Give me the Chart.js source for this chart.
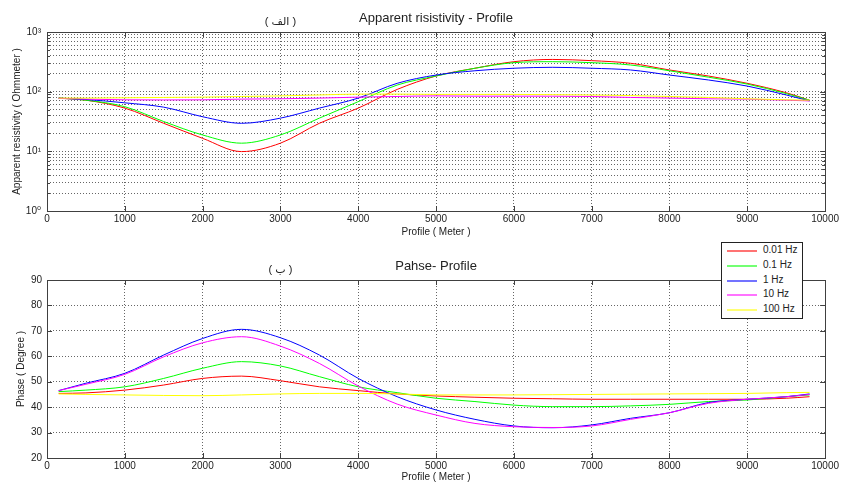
<!DOCTYPE html>
<html>
<head>
<meta charset="utf-8">
<title>Apparent resistivity and phase - Profile</title>
<script src="https://cdn.jsdelivr.net/npm/chart.js@4.4.1/dist/chart.umd.min.js"></script>
<style>
  body { margin: 0; background: #fff; }
  #wrap { position: relative; width: 841px; height: 485px; background: #fff; font-family: 'Liberation Sans', Arial, sans-serif; }
  #rho-chart { position: absolute; left: 0; top: 0; }
  #phase-chart { position: absolute; left: 0; top: 240px; }
  #legend { position: absolute; left: 721px; top: 242px; width: 80px; height: 75px; border: 1px solid #222; background: #fff; font-size: 10px; color: #222; }
  .item { position: absolute; left: 0; width: 80px; height: 12px; line-height: 12px; white-space: nowrap; }
  .swatch { position: absolute; left: 5px; top: 6px; width: 30px; height: 0; border-top: 2px solid; opacity: 0.55; }
  .label { position: absolute; left: 41px; top: 0; }
</style>
</head>
<body>
<div id="wrap">
  <canvas id="rho-chart" width="841" height="240"></canvas>
  <canvas id="phase-chart" width="841" height="245"></canvas>
  <div id="legend"></div>
</div>
<script>
'use strict';

// DATA
const profileX = [150, 500, 1000, 1500, 2000, 2500, 3000, 3500, 4000, 4500, 5000,
  5500, 6000, 6500, 7000, 7500, 8000, 8500, 9000, 9500, 9800];

const freqLabels = ['0.01 Hz', '0.1 Hz', '1 Hz', '10 Hz', '100 Hz'];
const lineColors = ['#ff0000', '#00ff00', '#0000ff', '#ff00ff', '#ffff00'];

// apparent resistivity (Ohmmeter)
const rho001 = [78, 72, 53, 29.5, 16.5, 9.9, 13.7, 29.5, 53, 109, 183, 247, 318, 347, 331, 299, 231, 183, 138, 96, 72];
const rho01 = [78, 72, 56, 31.6, 18.8, 13.7, 18.8, 36, 68, 129, 183, 247, 306, 318, 306, 280, 224, 175, 134, 93, 72];
const rho1 = [78, 74, 65, 55, 38, 29.5, 36, 53, 78, 138, 190, 224, 247, 256, 247, 231, 190, 157, 124, 88, 70];
const rho10 = [77, 75, 73, 72.6, 73, 75, 76, 78, 81, 83, 85, 84, 84, 84, 83, 80, 78, 76, 75, 72, 70];
const rho100 = [78, 78, 79, 80, 81, 83, 85, 88, 91, 91, 90, 90, 90, 89, 88, 86, 83, 80, 76, 73, 72];

// phase (Degree)
const phase001 = [45.4, 45.6, 46.7, 48.7, 51.3, 52.2, 50.4, 48, 46.5, 45.2, 44.4, 43.9, 43.5, 43.3, 43.1, 43.1, 43.1, 43.1, 43.1, 43.5, 44.1];
const phase01 = [46.1, 46.7, 48, 51.3, 55.3, 57.9, 56.2, 52, 48, 45.7, 43.5, 42.2, 40.8, 40.2, 40.2, 40.5, 41.1, 42.2, 42.8, 44.1, 44.8];
const phase1 = [46.5, 49.4, 53.3, 60.5, 67, 70.6, 67.3, 60.5, 51.3, 44.1, 38.9, 35.2, 32.6, 31.9, 33, 35.6, 37.8, 41.8, 43.1, 44.1, 45.2];
const phase10 = [46.5, 49, 52.9, 59.8, 65.3, 67.7, 64, 57.2, 48.3, 41.2, 36.9, 33.6, 32.3, 32, 32.6, 35.2, 37.8, 41.5, 43.1, 44.1, 45];
const phase100 = [45.2, 45, 44.8, 44.6, 44.5, 44.8, 45.2, 45.4, 45.4, 45.2, 44.8, 44.8, 44.8, 44.9, 45, 45.1, 45.2, 45.3, 45.4, 45.7, 45.8];

const rhoTicks = [1, 10, 100, 1000];
const phaseTicks = [20, 30, 40, 50, 60, 70, 80, 90];
const profileTicks = [0, 1000, 2000, 3000, 4000, 5000, 6000, 7000, 8000, 9000, 10000];

const rhoSeries = [rho001, rho01, rho1, rho10, rho100];
const phaseSeries = [phase001, phase01, phase1, phase10, phase100];

const FONT = "'Liberation Sans', 'DejaVu Sans', Arial, sans-serif";
const SUPERSCRIPTS = ['⁰', '¹', '²', '³', '⁴'];

// HELPERS
function toPoints(values){
  return profileX.map((x, i) => ({ x: x, y: values[i] }));
}

function makeDatasets(seriesList){
  return seriesList.map((values, i) => ({
    label: freqLabels[i],
    data: toPoints(values),
    borderColor: lineColors[i],
    borderWidth: 1,
    pointRadius: 0,
    fill: false,
    cubicInterpolationMode: 'monotone',
    order: seriesList.length - i
  }));
}

// 1..9 x each decade, for the minor log grid
function logGridValues(){
  let out = [];
  for(let i = 0; i < rhoTicks.length - 1; i++){
    for(let k = 1; k < 10; k++){
      out.push(k * rhoTicks[i]);
    }
  }
  out.push(rhoTicks[rhoTicks.length - 1]);
  return out;
}

// box round the axes plus inward ticks and the ( الف ) / ( ب ) tag
const axesFrame = {
  id: 'axesFrame',
  afterDatasetsDraw(chart, args, opts){
    const ctx = chart.ctx;
    const area = chart.chartArea;
    const xs = chart.scales.x;
    const ys = chart.scales.y;
    ctx.save();
    ctx.strokeStyle = '#404040';
    ctx.lineWidth = 1;
    ctx.setLineDash([]);
    ctx.beginPath();
    xs.ticks.forEach(t => {
      let px = Math.round(xs.getPixelForValue(t.value)) + 0.5;
      ctx.moveTo(px, area.bottom);
      ctx.lineTo(px, area.bottom - 5);
      ctx.moveTo(px, area.top);
      ctx.lineTo(px, area.top + 5);
    });
    ys.ticks.forEach(t => {
      let py = Math.round(ys.getPixelForValue(t.value)) + 0.5;
      let len = t.label ? 5 : 3;
      ctx.moveTo(area.left, py);
      ctx.lineTo(area.left + len, py);
      ctx.moveTo(area.right, py);
      ctx.lineTo(area.right - len, py);
    });
    ctx.stroke();
    ctx.strokeRect(Math.round(area.left) + 0.5, Math.round(area.top) + 0.5,
      Math.round(area.width), Math.round(area.height));

    ctx.fillStyle = '#222';
    ctx.font = '11px ' + FONT;
    ctx.textAlign = 'center';
    ctx.textBaseline = 'middle';
    ctx.fillText(opts.tag, xs.getPixelForValue(opts.tagAt), area.top - 10);
    ctx.restore();
  }
};

function xScale(height){
  return {
    type: 'linear',
    min: 0,
    max: 10000,
    afterBuildTicks: (scale) => { scale.ticks = profileTicks.map(v => ({ value: v })); },
    ticks: {
      color: '#222',
      font: { size: 10, family: FONT },
      padding: 2,
      maxRotation: 0,
      autoSkip: false,
      callback: (value) => String(value)
    },
    grid: { color: 'rgba(0,0,0,0.6)', lineWidth: 1, drawTicks: false },
    border: { display: false, dash: [1, 2] },
    title: { display: true, text: 'Profile ( Meter )', color: '#222', font: { size: 10, family: FONT }, padding: { top: 0, bottom: 2 } },
    afterFit: (scale) => { scale.height = height; }
  };
}

function baseOptions(titleText, titlePadTop){
  return {
    responsive: false,
    animation: false,
    events: [],
    layout: { padding: { top: 0, right: 14, left: 0, bottom: 0 } },
    plugins: {
      legend: { display: false },
      tooltip: { enabled: false },
      title: {
        display: true,
        fullSize: false,
        text: titleText,
        color: '#222',
        font: { size: 13, weight: 'normal', family: FONT },
        padding: { top: titlePadTop, bottom: 5.5 }
      }
    }
  };
}

// CHART: apparent resistivity
let rhoOptions = baseOptions('Apparent risistivity - Profile', 10.9);
rhoOptions.plugins.axesFrame = { tag: '( الف )', tagAt: 3000 };
rhoOptions.scales = {
  x: xScale(29),
  y: {
    type: 'logarithmic',
    min: 1,
    max: 1000,
    afterBuildTicks: (scale) => { scale.ticks = logGridValues().map(v => ({ value: v })); },
    ticks: {
      color: '#222',
      font: { size: 10, family: FONT },
      padding: 6,
      autoSkip: false,
      callback: (value) => rhoTicks.includes(value) ? '10' + SUPERSCRIPTS[Math.round(Math.log10(value))] : ''
    },
    grid: { color: 'rgba(0,0,0,0.6)', lineWidth: 1, drawTicks: false },
    border: { display: false, dash: [1, 2] },
    title: { display: true, text: 'Apparent resistivity ( Ohmmeter )', color: '#222', font: { size: 10, family: FONT }, padding: { top: 11, bottom: 0 } },
    afterFit: (scale) => { scale.width = 47; }
  }
};

new Chart(document.getElementById('rho-chart'), {
  type: 'line',
  data: { datasets: makeDatasets(rhoSeries) },
  options: rhoOptions,
  plugins: [axesFrame]
});

// CHART: phase
let phaseOptions = baseOptions('Pahse- Profile', 18.9);
phaseOptions.plugins.axesFrame = { tag: '( ب )', tagAt: 3000 };
phaseOptions.scales = {
  x: xScale(27),
  y: {
    type: 'linear',
    min: 20,
    max: 90,
    afterBuildTicks: (scale) => { scale.ticks = phaseTicks.map(v => ({ value: v })); },
    ticks: { color: '#222', font: { size: 10, family: FONT }, padding: 5, autoSkip: false },
    grid: { color: 'rgba(0,0,0,0.6)', lineWidth: 1, drawTicks: false },
    border: { display: false, dash: [1, 2] },
    title: { display: true, text: 'Phase ( Degree )', color: '#222', font: { size: 10, family: FONT }, padding: { top: 15, bottom: 0 } },
    afterFit: (scale) => { scale.width = 47; }
  }
};

new Chart(document.getElementById('phase-chart'), {
  type: 'line',
  data: { datasets: makeDatasets(phaseSeries) },
  options: phaseOptions,
  plugins: [axesFrame]
});

// LEGEND
let legendBox = document.getElementById('legend');
for(let i = 0; i < freqLabels.length; i++){
  let item = document.createElement('div');
  item.className = 'item';
  item.style.top = (1 + i * 14.8) + 'px';
  let swatch = document.createElement('span');
  swatch.className = 'swatch';
  swatch.style.borderColor = lineColors[i];
  let label = document.createElement('span');
  label.className = 'label';
  label.textContent = freqLabels[i];
  item.appendChild(swatch);
  item.appendChild(label);
  legendBox.appendChild(item);
}
</script>
</body>
</html>
